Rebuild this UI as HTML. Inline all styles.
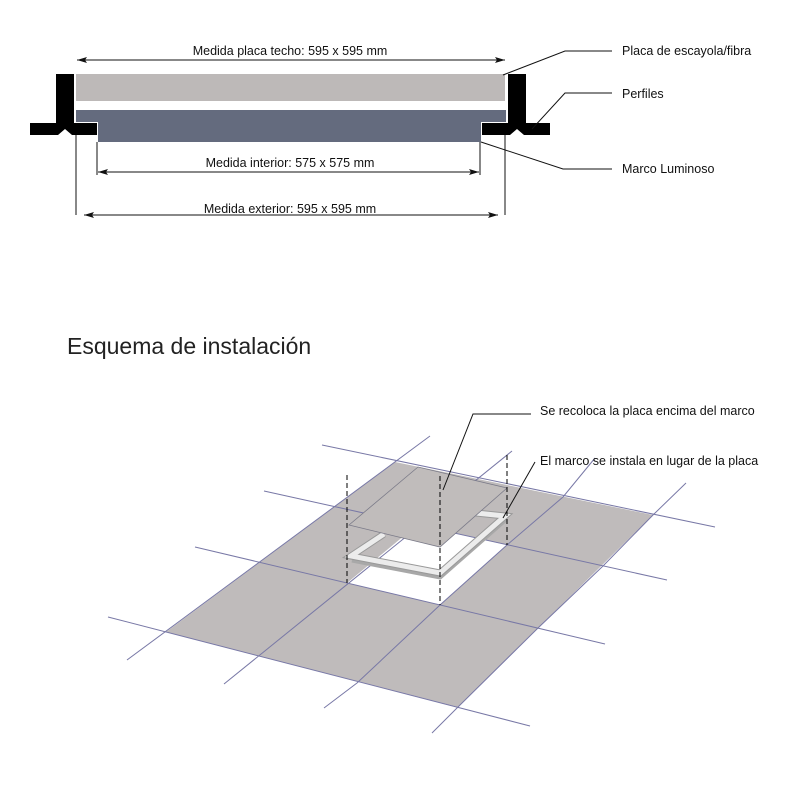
<!DOCTYPE html>
<html><head><meta charset="utf-8"><style>
html,body{margin:0;padding:0;background:#fff;}
svg{display:block;}
text{font-family:"Liberation Sans",sans-serif;fill:#111;}
</style></head><body>
<svg width="800" height="800" viewBox="0 0 800 800" xmlns="http://www.w3.org/2000/svg">
<defs>
<marker id="ah" viewBox="0 0 10 6" refX="10" refY="3" markerWidth="10" markerHeight="6" markerUnits="userSpaceOnUse" orient="auto-start-reverse">
<path d="M0,0 L10,3 L0,6 L2,3 Z" fill="#111"/>
</marker>
</defs>
<!-- top section -->
<rect x="76" y="74" width="429" height="27" fill="#bdb9b8"/>
<rect x="76" y="110" width="430" height="12" fill="#646b7e"/>
<rect x="98" y="121" width="383" height="21" fill="#646b7e"/>
<path d="M56,74 H74 V123 H97 V135 H72 L65,129 L58,135 H30 V123 H56 Z" fill="#000"/>
<path d="M508,74 H526 V123 H550 V135 H524 L517,129 L510,135 H482 V123 H508 Z" fill="#000"/>
<line x1="77" y1="60" x2="505" y2="60" stroke="#111" stroke-width="1" marker-start="url(#ah)" marker-end="url(#ah)"/>
<text x="290" y="55" font-size="12.5" text-anchor="middle">Medida placa techo: 595 x 595 mm</text>
<line x1="97" y1="142" x2="97" y2="175" stroke="#111" stroke-width="1"/>
<line x1="480" y1="142" x2="480" y2="175" stroke="#111" stroke-width="1"/>
<line x1="98" y1="172" x2="479" y2="172" stroke="#111" stroke-width="1" marker-start="url(#ah)" marker-end="url(#ah)"/>
<text x="290" y="167" font-size="12.5" text-anchor="middle">Medida interior: 575 x 575 mm</text>
<line x1="76" y1="135" x2="76" y2="215" stroke="#111" stroke-width="1"/>
<line x1="505" y1="135" x2="505" y2="215" stroke="#111" stroke-width="1"/>
<line x1="84" y1="215" x2="498" y2="215" stroke="#111" stroke-width="1" marker-start="url(#ah)" marker-end="url(#ah)"/>
<text x="290" y="213" font-size="12.5" text-anchor="middle">Medida exterior: 595 x 595 mm</text>
<polyline points="612,51 565,51 503,75" fill="none" stroke="#111" stroke-width="1"/>
<text x="622" y="55" font-size="12.5">Placa de escayola/fibra</text>
<polyline points="612,93 565,93 532,129" fill="none" stroke="#111" stroke-width="1"/>
<text x="622" y="98" font-size="12.5">Perfiles</text>
<polyline points="612,169 563,169 481,142" fill="none" stroke="#111" stroke-width="1"/>
<text x="622" y="173" font-size="12.5">Marco Luminoso</text>
<text x="67" y="354" font-size="23" style="fill:#222">Esquema de instalación</text>
<!-- floor -->
<polygon points="166,632 458,707 653,515 395,462" fill="#bfbbbb"/>
<polygon points="347,583 440,605 507,545 417,525" fill="#fff"/>
<g stroke="#7878a6" stroke-width="1" fill="none">
<line x1="322" y1="445" x2="715" y2="527"/>
<line x1="264" y1="491" x2="667" y2="580"/>
<line x1="195" y1="547" x2="605" y2="644"/>
<line x1="108" y1="617" x2="530" y2="726"/>
<line x1="127" y1="660" x2="430" y2="436"/>
<line x1="224" y1="684" x2="512" y2="451"/>
<polyline points="324,708 357,683 440,605 507,545 563,497 595,458"/>
<polyline points="432,733 458,707 538,628 603,566 653,515 686,483"/>
</g>
<!-- frame -->
<polyline points="352,560 440,577 506,519" fill="none" stroke="#a8a8a8" stroke-width="5"/>
<polyline points="384,534 351,556 440,573 505,516 476,513" fill="none" stroke="#999" stroke-width="7" stroke-linejoin="miter"/>
<polyline points="384,534 351,556 440,573 505,516 476,513" fill="none" stroke="#ececec" stroke-width="5" stroke-linejoin="miter"/>
<!-- plate -->
<polygon points="349,525 440,547 507,488 418,467" fill="#c0bcbb" stroke="#7a7a88" stroke-width="0.8"/>
<g stroke="#000" stroke-width="1" stroke-dasharray="5,3">
<line x1="347" y1="475" x2="347" y2="583"/>
<line x1="440" y1="476" x2="440" y2="605"/>
<line x1="507" y1="455" x2="507" y2="545"/>
</g>
<polyline points="531,414 473,414 443,490" fill="none" stroke="#111" stroke-width="1"/>
<text x="540" y="415" font-size="12.5">Se recoloca la placa encima del marco</text>
<line x1="535" y1="462" x2="503" y2="518" stroke="#111" stroke-width="1"/>
<text x="540" y="465" font-size="12.5">El marco se instala en lugar de la placa</text>
</svg>
</body></html>
